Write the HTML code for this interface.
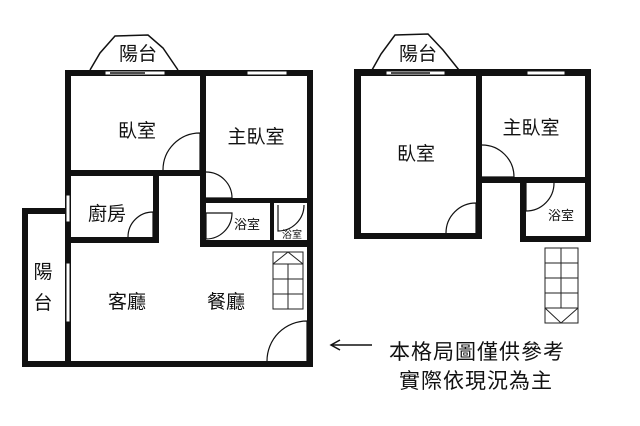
<!DOCTYPE html>
<html><head><meta charset="utf-8"><style>
html,body{margin:0;padding:0;background:#fff;}
svg{display:block;}
text{font-family:"Liberation Sans","Noto Sans CJK TC",sans-serif;fill:#111;}
</style></head><body>
<svg width="640" height="426" viewBox="0 0 640 426" xmlns="http://www.w3.org/2000/svg">
<rect width="640" height="426" fill="#fff"/>
<g fill="none" stroke="#111" stroke-width="1.5">
<polyline points="90,70 100,53 115,36 148,35 163,48 178,70"/>
<polyline points="372,70 381,54 395,35 428,34 443,50 459,70"/>
</g>
<g fill="#111">
<rect x="65" y="70" width="248" height="6"/>
<rect x="65" y="70" width="6" height="297"/>
<rect x="307" y="70" width="6" height="297"/>
<rect x="200" y="70" width="6" height="177"/>
<rect x="65" y="170" width="141" height="6"/>
<rect x="153" y="170" width="6" height="73"/>
<rect x="65" y="237" width="94" height="6"/>
<rect x="200" y="198" width="113" height="5"/>
<rect x="200" y="240" width="113" height="7"/>
<rect x="270" y="203" width="4" height="37"/>
<rect x="22" y="361" width="291" height="6"/>
<rect x="22" y="208" width="6" height="159"/>
<rect x="22" y="208" width="49" height="6"/>
<rect x="354" y="69" width="237" height="7"/>
<rect x="354" y="69" width="7" height="170"/>
<rect x="354" y="233" width="128" height="6"/>
<rect x="476" y="69" width="6" height="170"/>
<rect x="476" y="177" width="115" height="6"/>
<rect x="585" y="69" width="6" height="173"/>
<rect x="520" y="177" width="6" height="65"/>
<rect x="520" y="236" width="71" height="6"/>
</g>
<g fill="#fff" stroke="#111" stroke-width="1">
<rect x="105" y="71" width="60" height="4"/>
<rect x="247" y="71" width="40" height="4"/>
<rect x="66" y="195" width="4" height="27"/>
<rect x="66" y="263" width="4" height="59"/>
<rect x="386" y="71" width="59" height="4"/>
<rect x="527" y="71" width="38" height="4"/>
</g>
<g stroke="#111" stroke-width="1.5">
<line x1="110" y1="73" x2="145" y2="73"/>
<line x1="391" y1="73" x2="430" y2="73"/>
</g>
<g fill="none" stroke="#111" stroke-width="1.2">
<path d="M163,170 A37,37 0 0 1 200,133 L200,170"/>
<path d="M206,172 A26,26 0 0 1 232,198 L206,198"/>
<path d="M128,237 A25,25 0 0 1 153,212 L153,237"/>
<path d="M232,213 A26,26 0 0 1 206,239 L206,213 Z"/>
<path d="M304,205 A26,26 0 0 1 278,231 L278,205"/>
<path d="M267,361 A40,40 0 0 1 307,321 L307,361"/>
<path d="M446,233 A30,30 0 0 1 476,203 L476,233"/>
<path d="M482,145 A32,32 0 0 1 514,177 L482,177"/>
<path d="M554,183 A28,28 0 0 1 526,211 L526,183"/>
</g>
<g fill="none" stroke="#222" stroke-width="1">
<rect x="273" y="252" width="30" height="57"/>
<line x1="288" y1="264" x2="288" y2="309"/>
<line x1="273" y1="264" x2="303" y2="264"/>
<line x1="273" y1="279" x2="303" y2="279"/>
<line x1="273" y1="294" x2="303" y2="294"/>
<polyline points="273,264 288,252 303,264"/>
<rect x="545" y="248" width="33" height="75"/>
<line x1="561" y1="248" x2="561" y2="308"/>
<line x1="545" y1="263" x2="578" y2="263"/>
<line x1="545" y1="278" x2="578" y2="278"/>
<line x1="545" y1="293" x2="578" y2="293"/>
<line x1="545" y1="308" x2="578" y2="308"/>
<polyline points="545,308 561,323 578,308"/>
</g>
<g stroke="#111" stroke-width="1.5" fill="none">
<line x1="331" y1="345" x2="372" y2="345"/>
<polyline points="340,340 331,345 340,350"/>
</g>
<g font-size="19" text-anchor="middle">
<text x="138" y="60">陽台</text>
<text x="418" y="60">陽台</text>
<text x="137" y="137">臥室</text>
<text x="256" y="143">主臥室</text>
<text x="107" y="220">廚房</text>
<text x="43" y="278">陽</text>
<text x="43" y="309">台</text>
<text x="127" y="308">客廳</text>
<text x="226" y="308">餐廳</text>
<text x="416" y="160">臥室</text>
<text x="531" y="134">主臥室</text>
</g>
<text x="247" y="229" font-size="13" text-anchor="middle">浴室</text>
<text x="292" y="238" font-size="10" text-anchor="middle">浴室</text>
<text x="561" y="220" font-size="13" text-anchor="middle">浴室</text>
<text x="477" y="359" font-size="21" text-anchor="middle" letter-spacing="1">本格局圖僅供參考</text>
<text x="476" y="388" font-size="21" text-anchor="middle" letter-spacing="1">實際依現況為主</text>
</svg>
</body></html>
